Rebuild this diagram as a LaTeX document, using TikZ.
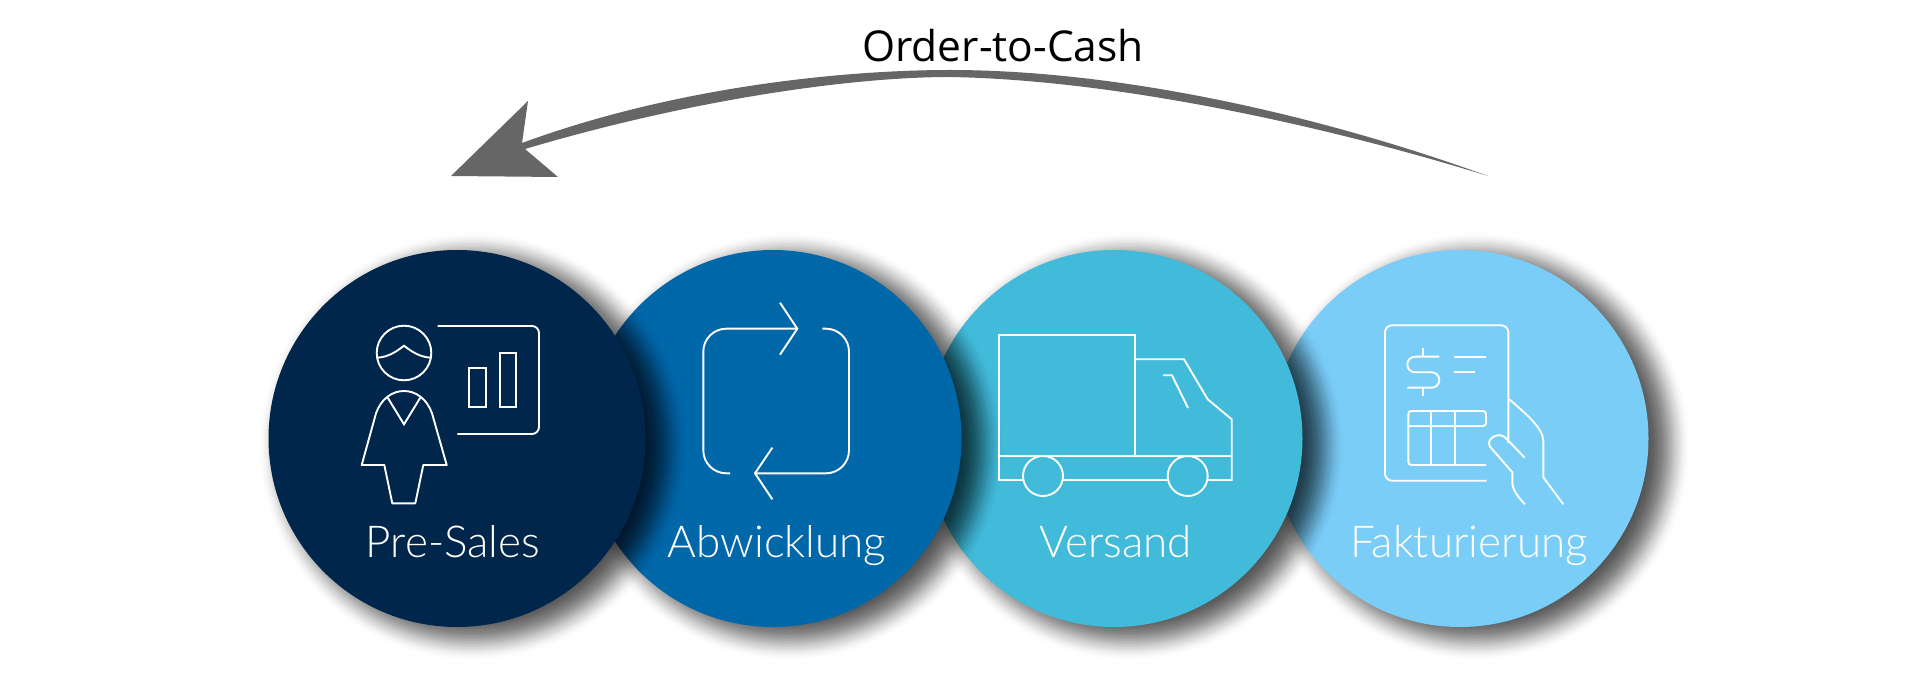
\documentclass[tikz,border=0pt]{standalone}
\usepackage{fontspec}
\setmainfont{Open Sans}
\newfontfamily\labelfont{Lato}[UprightFont=* Light]
\definecolor{presalesblue}{HTML}{00264B}
\definecolor{abwicklungblue}{HTML}{0067A9}
\definecolor{versandblue}{HTML}{42BAD9}
\definecolor{fakturablue}{HTML}{7ACDF7}
\definecolor{arrowgrey}{HTML}{666666}
\newcommand{\circleshadow}[2]{\foreach \r [evaluate=\r as \o using {.002+.05*sin(3.33*(214-\r))}] in {160,161.5,...,214} {\fill[black,opacity=\o] (#1+16,#2+8) circle (\r);}}
\tikzset{
	stepcircle/.style={shape=circle,minimum size=377pt,inner sep=0pt},
	steplabel/.style={anchor=base,text=white,font=\labelfont\fontsize{44}{44}\selectfont},
	icon/.style={draw=white,line width=1.9pt}
}
\begin{document}
\begin{tikzpicture}[x=1pt,y=-1pt]
		\useasboundingbox (0,0) rectangle (1920,700);

		\coordinate (tail) at (1488,176);
		\coordinate (tip) at (451,176);
		\fill[arrowgrey] (tail) .. controls (1330,127) and (1120,80) .. (950,77) .. controls (850,77) and (690,100) .. (525,149) -- (558,177) -- (tip) -- (528,101) -- (522,143) .. controls (680,85) and (850,70) .. (950,70) .. controls (1120,70) and (1320,115) .. (tail);
		\node[anchor=base,font=\fontsize{42.5}{42.5}\selectfont] (o2c) at (1003,62) {Order-to-Cash};

		\circleshadow{1460}{438.5}
		\node[stepcircle,fill=fakturablue] (faktura) at (1460,438.5) {};
		\circleshadow{1114}{438.5}
		\node[stepcircle,fill=versandblue] (versand) at (1114,438.5) {};
		\circleshadow{773}{438.5}
		\node[stepcircle,fill=abwicklungblue] (abwicklung) at (773,438.5) {};
		\circleshadow{457}{438.5}
		\node[stepcircle,fill=presalesblue] (presales) at (457,438.5) {};

		\node[steplabel] (presaleslabel) at (453,557) {Pre-Sales};
		\node[steplabel] (abwicklunglabel) at (777,557) {Abwicklung};
		\node[steplabel] (versandlabel) at (1115.5,557) {Versand};
		\node[steplabel] (fakturalabel) at (1469,557) {Fakturierung};

		\draw[icon] (404,353) circle (27.3);
		\draw[icon] (377.7,357.7) .. controls (388,357) and (396,352) .. (404,345.7) .. controls (412,352) and (420,357) .. (430.7,357.7);
		\draw[icon,line join=round] (384.3,465) -- (361.7,465) -- (376,413.3) .. controls (381,399) and (392,391) .. (404,391) .. controls (416,391) and (427,399) .. (432,413.3) -- (446.7,465) -- (423.3,465) -- (415.3,503.3) -- (392.3,503.3) -- cycle;
		\draw[icon] (387.7,397.7) -- (404,424.3) -- (420.3,397.7);
		\draw[icon,rounded corners=7pt] (437.7,326) -- (539,326) -- (539,434) -- (457.3,434);
		\draw[icon] (469.3,368.3) rectangle (485.7,407.3);
		\draw[icon] (500,352.7) rectangle (516.3,407.3);

		\draw[icon,rounded corners=23pt] (797.3,328.7) -- (703.3,328.7) -- (703.3,473.3) -- (730,473.3);
		\draw[icon,rounded corners=23pt] (822.3,328.7) -- (849,328.7) -- (849,473.3) -- (755,473.3);
		\draw[icon] (780,302.7) -- (797.3,328.7) -- (780,354.7);
		\draw[icon] (772.3,447.7) -- (755,473.3) -- (772.3,499.3);

		\draw[icon] (1023.3,480) -- (999,480) -- (999,335.3) -- (1135.3,335.3) -- (1135.3,455.7);
		\draw[icon] (999,455.7) -- (1231.7,455.7);
		\draw[icon] (1135.3,359.3) -- (1184,359.3) -- (1207.7,399.3) -- (1231.7,419.3) -- (1231.7,480) -- (1208.3,480);
		\draw[icon] (1063.3,480) -- (1167.3,480);
		\draw[icon] (1043,476) circle (20);
		\draw[icon] (1187.7,476) circle (20);
		\draw[icon] (1163,375.3) -- (1172,375.3) -- (1188,408);

		\draw[icon,rounded corners=7pt] (1486.7,480.7) -- (1385,480.7) -- (1385,325.3) -- (1508.3,325.3) -- (1508.3,443);
		\draw[icon] (1423.3,348.3) -- (1423.3,356.7);
		\draw[icon] (1423.3,388) -- (1423.3,396);
		\draw[icon,rounded corners=7.7pt] (1439.3,356.7) -- (1407.3,356.7) -- (1407.3,372.3) -- (1439.3,372.3) -- (1439.3,387.7) -- (1407.3,387.7);
		\draw[icon] (1454,356.7) -- (1486,356.7);
		\draw[icon] (1454,372) -- (1474.7,372);
		\draw[icon,rounded corners=3pt] (1486,465) -- (1408.3,465) -- (1408.3,411) -- (1486,411) -- (1486,426) -- (1408.3,426);
		\draw[icon] (1431,411) -- (1431,465);
		\draw[icon] (1454.7,411) -- (1454.7,465);
		\draw[icon] (1509.3,399.3) .. controls (1525,413) and (1543.3,428) .. (1543.3,441) -- (1543.3,477.3) -- (1563.3,504.3);
		\draw[icon] (1524.7,457.7) -- (1506,438.3) .. controls (1500,431) and (1485,438) .. (1490,446.7) -- (1512.3,472.3) -- (1512.3,483.3) .. controls (1513,491) and (1519,498) .. (1525,504.3);
		\end{tikzpicture}
\end{document}
